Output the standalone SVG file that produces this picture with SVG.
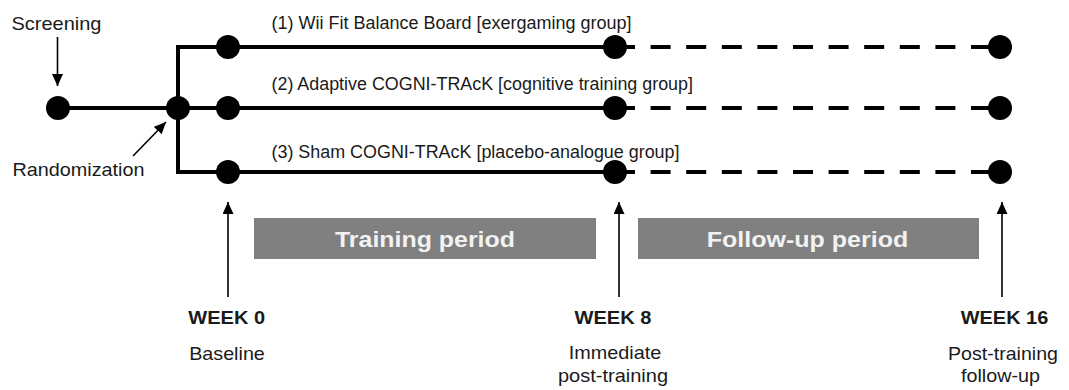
<svg xmlns="http://www.w3.org/2000/svg" width="1069" height="390" viewBox="0 0 1069 390">
<defs>
<marker id="ah" markerUnits="userSpaceOnUse" markerWidth="12" markerHeight="11" refX="12" refY="5.5" orient="auto">
<path d="M0,0 L12,5.5 L0,11 z" fill="#000"/>
</marker>
<style>
text{font-family:"Liberation Sans",Arial,sans-serif;fill:#1a1a1a}
.lbl{font-size:17.8px}
.grp{font-size:17.5px}
.wk{font-size:18.6px;font-weight:bold;text-anchor:middle}
.sub{font-size:18.4px;text-anchor:middle}
.bar{fill:#808080}
.bart{font-size:21.5px;font-weight:bold;fill:#f2f2f2;text-anchor:middle}
.solid{stroke:#000;stroke-width:4;fill:none}
.dash{stroke:#000;stroke-width:4;fill:none;stroke-dasharray:20 15.6}
.arr{stroke:#000;stroke-width:1.6;fill:none;marker-end:url(#ah)}
.dot{fill:#000}
</style>
</defs>
<rect width="1069" height="390" fill="#fff"/>
<g id="connectors">
<line class="solid" x1="58" y1="108" x2="178" y2="108"/>
<polyline class="solid" points="615,47 178,47 178,172 615,172"/>
<line class="solid" x1="178" y1="108" x2="615" y2="108"/>
<line class="dash" x1="615" y1="47" x2="1000" y2="47"/>
<line class="dash" x1="615" y1="108" x2="1000" y2="108"/>
<line class="dash" x1="615" y1="172" x2="1000" y2="172"/>
<line class="arr" x1="57.5" y1="37" x2="57.5" y2="86"/>
<line class="arr" x1="133" y1="156" x2="166" y2="122"/>
<line class="arr" x1="228" y1="297" x2="228" y2="202"/>
<line class="arr" x1="619" y1="297" x2="619" y2="202"/>
<line class="arr" x1="1002" y1="297" x2="1002" y2="202"/>
</g>
<g id="screening">
<circle class="dot" cx="58" cy="108" r="12"/>
<text class="lbl" x="11.5" y="29.5" textLength="90" lengthAdjust="spacingAndGlyphs">Screening</text>
</g>
<g id="randomization">
<circle class="dot" cx="178" cy="108" r="12"/>
<text class="lbl" x="12.5" y="175.5" textLength="132" lengthAdjust="spacingAndGlyphs">Randomization</text>
</g>
<g id="group1">
<text class="grp" x="271.5" y="28.5" textLength="360" lengthAdjust="spacingAndGlyphs">(1) Wii Fit Balance Board [exergaming group]</text>
<circle class="dot" cx="228" cy="47" r="12"/>
<circle class="dot" cx="615" cy="47" r="12"/>
<circle class="dot" cx="1000" cy="47" r="12"/>
</g>
<g id="group2">
<text class="grp" x="271.5" y="90" textLength="421.5" lengthAdjust="spacingAndGlyphs">(2) Adaptive COGNI-TRAcK [cognitive training group]</text>
<circle class="dot" cx="228" cy="108" r="12"/>
<circle class="dot" cx="615" cy="108" r="12"/>
<circle class="dot" cx="1000" cy="108" r="12"/>
</g>
<g id="group3">
<text class="grp" x="271.5" y="157.5" textLength="408" lengthAdjust="spacingAndGlyphs">(3) Sham COGNI-TRAcK [placebo-analogue group]</text>
<circle class="dot" cx="228" cy="172" r="12"/>
<circle class="dot" cx="615" cy="172" r="12"/>
<circle class="dot" cx="1000" cy="172" r="12"/>
</g>
<g id="training-period">
<rect class="bar" x="254" y="218" width="342" height="41"/>
<text class="bart" x="425" y="246.5" textLength="180" lengthAdjust="spacingAndGlyphs">Training period</text>
</g>
<g id="followup-period">
<rect class="bar" x="638" y="218" width="341" height="41"/>
<text class="bart" x="807.5" y="246.5" textLength="201.5" lengthAdjust="spacingAndGlyphs">Follow-up period</text>
</g>
<g id="week0">
<text class="wk" x="226.7" y="323.5" textLength="76.7" lengthAdjust="spacingAndGlyphs">WEEK 0</text>
<text class="sub" x="227" y="360" textLength="75.7" lengthAdjust="spacingAndGlyphs">Baseline</text>
</g>
<g id="week8">
<text class="wk" x="613" y="323.5" textLength="77" lengthAdjust="spacingAndGlyphs">WEEK 8</text>
<text class="sub" x="615" y="359" textLength="92.5" lengthAdjust="spacingAndGlyphs">Immediate</text>
<text class="sub" x="613" y="381.5" textLength="110" lengthAdjust="spacingAndGlyphs">post-training</text>
</g>
<g id="week16">
<text class="wk" x="1004.5" y="323.5" textLength="87.5" lengthAdjust="spacingAndGlyphs">WEEK 16</text>
<text class="sub" x="1003" y="360" textLength="110" lengthAdjust="spacingAndGlyphs">Post-training</text>
<text class="sub" x="1000.5" y="381.5" textLength="79" lengthAdjust="spacingAndGlyphs">follow-up</text>
</g>
</svg>
